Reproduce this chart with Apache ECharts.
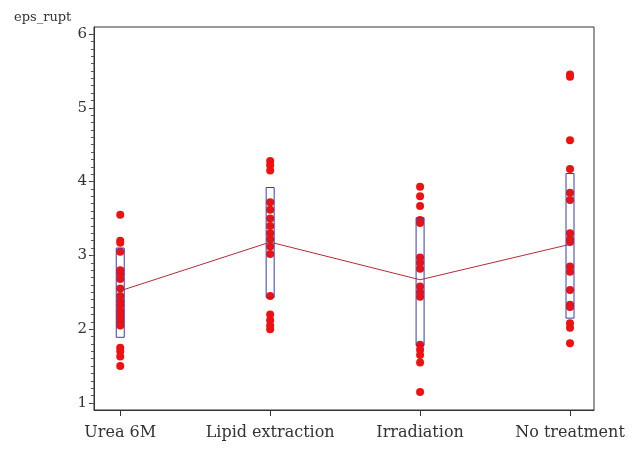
<!DOCTYPE html>
<html>
<head>
<meta charset="utf-8">
<script src="https://cdn.jsdelivr.net/npm/echarts@6/dist/echarts.min.js"></script>
<style>
  html, body { margin: 0; padding: 0; background: #fff; }
  #main { width: 636px; height: 449px; }
</style>
</head>
<body>
<div id="main"></div>
<script>
// groups along the x axis
var groups = ['Urea 6M', 'Lipid extraction', 'Irradiation', 'No treatment'];

// individual measurements per group (eps_rupt)
var urea = [3.55, 3.2, 3.17, 3.05, 2.8, 2.75, 2.68, 2.55, 2.45, 2.38, 2.32, 2.25, 2.2, 2.15, 2.1, 2.05, 1.75, 1.7, 1.63, 1.5];
var lipid = [4.28, 4.22, 4.15, 3.72, 3.62, 3.5, 3.4, 3.3, 3.22, 3.12, 3.02, 2.45, 2.2, 2.12, 2.05, 2.0];
var irrad = [3.93, 3.8, 3.67, 3.48, 3.44, 2.97, 2.9, 2.82, 2.58, 2.5, 2.44, 1.79, 1.72, 1.65, 1.55, 1.15];
var notreat = [5.45, 5.42, 4.56, 4.17, 3.85, 3.75, 3.3, 3.22, 3.18, 2.85, 2.78, 2.53, 2.33, 2.3, 2.08, 2.02, 1.81];

// box limits (low, high) and group means
var boxLow = [1.89, 2.43, 1.78, 2.15];
var boxHigh = [3.10, 3.92, 3.51, 4.11];
var means = [2.52, 3.18, 2.67, 3.15];

var yTicks = [1, 2, 3, 4, 5, 6];

var myChart = echarts.init(document.getElementById('main'), null, {renderer: 'canvas'});

var points = [];
[urea, lipid, irrad, notreat].forEach(function (arr, i) {
    arr.forEach(function (v) { points.push([i, v]); });
});
var boxes = groups.map(function (g, i) { return [i, boxLow[i], boxHigh[i]]; });
var meanLine = means.map(function (v, i) { return [i, v]; });

// minor ticks every 0.1
var minorTicks = [];
for (var k = 10; k <= 60; k++) minorTicks.push(k / 10);

var font = 'DejaVu Serif';

var option = {
    backgroundColor: '#fff',
    animation: false,
    title: {
        text: 'eps_rupt',
        left: 9,
        top: 6,
        textStyle: { fontFamily: font, fontSize: 13, fontWeight: 'normal', color: '#333' }
    },
    grid: {
        left: 94, right: 42, top: 27, bottom: 39,
        show: true, borderColor: '#333', borderWidth: 1
    },
    xAxis: {
        type: 'value',
        min: -0.175,
        max: 3.16,
        splitLine: { show: false },
        axisLine: { onZero: false, lineStyle: { color: '#333' } },
        axisTick: { customValues: [0, 1, 2, 3], length: 6, inside: false, lineStyle: { color: '#333' } },
        axisLabel: {
            customValues: [0, 1, 2, 3],
            margin: 15,
            fontFamily: font, fontSize: 16, color: '#333',
            formatter: function (v) { return groups[Math.round(v)]; }
        }
    },
    yAxis: [{
        type: 'value',
        min: 0.905,
        max: 6.095,
        splitLine: { show: false },
        axisLine: { show: true, onZero: false, lineStyle: { color: '#333' } },
        axisTick: { customValues: yTicks, length: 5, lineStyle: { color: '#333' } },
        axisLabel: { customValues: yTicks, margin: 7, fontFamily: font, fontSize: 15, color: '#333' }
    }, {
        type: 'value',
        min: 0.905,
        max: 6.095,
        position: 'left',
        splitLine: { show: false },
        axisLine: { show: false, onZero: false },
        axisTick: { customValues: minorTicks, length: 3, lineStyle: { color: '#555' } },
        axisLabel: { show: false }
    }],
    series: [{
        type: 'scatter',
        data: points,
        symbolSize: 8,
        itemStyle: { color: '#ee1111', opacity: 1 },
        z: 2
    }, {
        type: 'custom',
        data: boxes,
        z: 3,
        renderItem: function (params, api) {
            var top = api.coord([api.value(0), api.value(2)]);
            var bot = api.coord([api.value(0), api.value(1)]);
            return {
                type: 'rect',
                shape: { x: top[0] - 4, y: top[1], width: 8, height: bot[1] - top[1] },
                style: { fill: 'none', stroke: '#3a3ab0', lineWidth: 1 }
            };
        }
    }, {
        type: 'line',
        data: meanLine,
        symbol: 'none',
        lineStyle: { color: '#b52a3a', width: 1 },
        z: 4
    }]
};
myChart.setOption(option);
</script>
</body>
</html>
